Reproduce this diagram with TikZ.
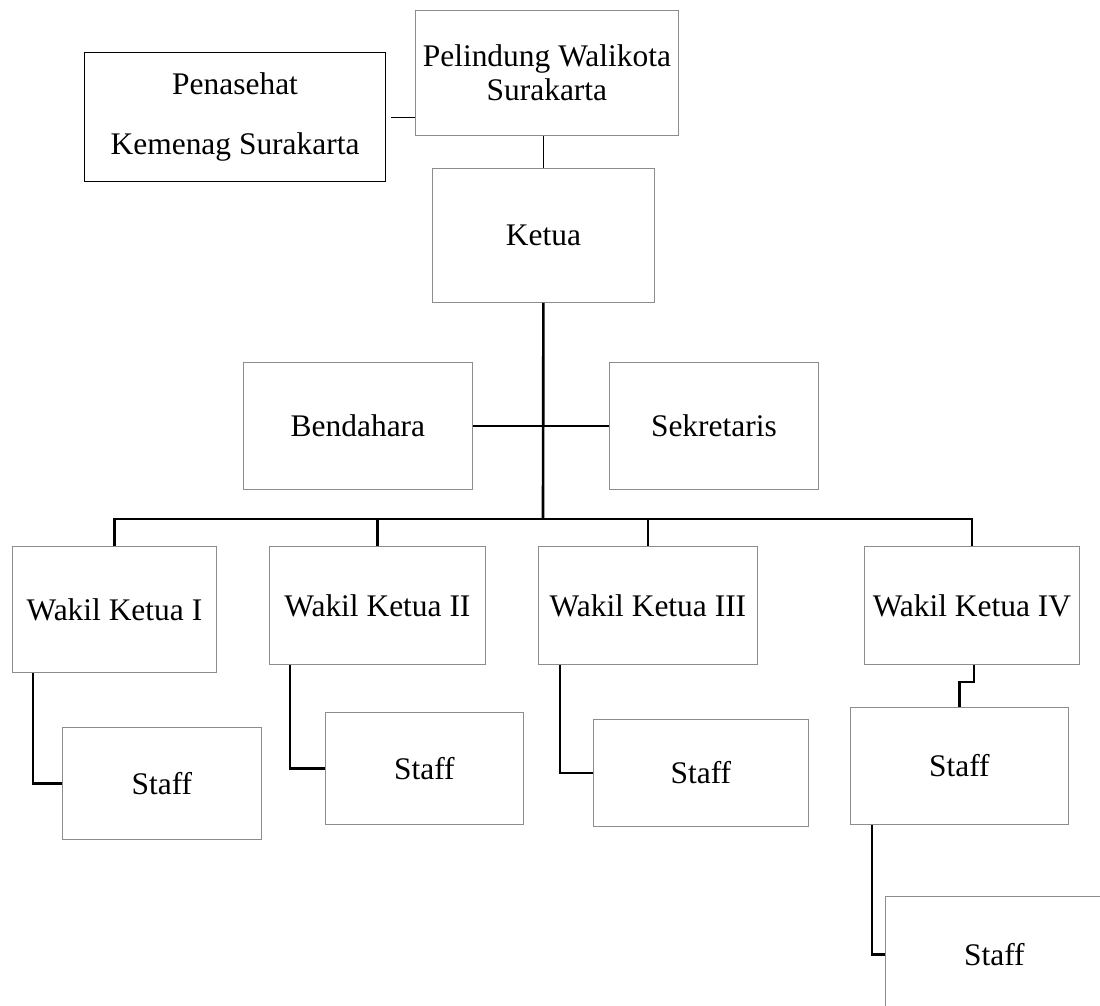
\documentclass[tikz,border=0pt]{standalone}
\usepackage{fontspec}
\setmainfont{Liberation Serif}
\usetikzlibrary{positioning}

\begin{document}
\begin{tikzpicture}[x=0.02cm,y=-0.02cm,
    font=\fontsize{17.9}{19}\selectfont,
    box/.style={draw=black!45, line width=0.5pt, rectangle, inner sep=0pt,
                anchor=north west, align=center},
    thin/.style={line width=0.6pt},
    thick/.style={line width=1.5pt}]
  \useasboundingbox (0,0) rectangle (1100,1006);
  \begin{scope}
  \clip (0,0) rectangle (1100,1006);
  \node[box, minimum width=5.26cm, minimum height=2.5cm] (pel) at (415,10) {Pelindung Walikota\\Surakarta};
  \node[box, draw=black, line width=0.7pt, minimum width=6.02cm, minimum height=2.58cm] (pen) at (84,52) {Penasehat\\[0.53cm]Kemenag Surakarta};
  \node[box, minimum width=4.44cm, minimum height=2.68cm] (ketua) at (432,168) {Ketua};
  \node[box, minimum width=4.58cm, minimum height=2.54cm] (bend) at (243,362) {Bendahara};
  \node[box, minimum width=4.18cm, minimum height=2.54cm] (sek) at (609,362) {Sekretaris};
  \node[box, minimum width=4.08cm, minimum height=2.52cm] (wa) at (12,546) {Wakil Ketua I};
  \node[box, minimum width=4.32cm, minimum height=2.36cm] (wb) at (269,546) {Wakil Ketua II};
  \node[box, minimum width=4.38cm, minimum height=2.36cm] (wc) at (538,546) {Wakil Ketua III};
  \node[box, minimum width=4.30cm, minimum height=2.36cm] (wd) at (864,546) {Wakil Ketua IV};
  \node[box, minimum width=3.98cm, minimum height=2.24cm] (sa) at (62,727) {Staff};
  \node[box, minimum width=3.96cm, minimum height=2.24cm] (sb) at (325,712) {Staff};
  \node[box, minimum width=4.30cm, minimum height=2.14cm] (sc) at (593,719) {Staff};
  \node[box, minimum width=4.36cm, minimum height=2.34cm] (sd) at (850,707) {Staff};
  \node[box, minimum width=4.36cm, minimum height=2.32cm] (se) at (885,896) {Staff};
  \coordinate (bus) at (543,519);

  % top
  \draw[thin] ([xshift=0.1cm]pen.east) -- (pen.east -| pel.west);
  \draw[thin] (ketua.north) -- (ketua.north |- pel.south);
  \draw[thick] (ketua.south) -- (bus);
  \draw[thick] (bend.east) -- (sek.west);
  % wakil
  \draw[thick] (bus) -| (wa.north);
  \draw[thick] (bus) -| (wb.north);
  \draw[thick] (bus) -| (wc.north);
  \draw[thick] (bus) -| (wd.north);
  % staff
  \draw[thick] (wa.south west) ++(21,0) |- (sa.west);
  \draw[thick] (wb.south west) ++(21,0) |- (sb.west);
  \draw[thick] (wc.south west) ++(22,0) |- (sc.west);
  \draw[thick] (wd.south) ++(2,0) -- ++(0,17) -| (sd.north);
  \draw[thick] (sd.south west) ++(22,0) |- (se.west);
  \end{scope}
\end{tikzpicture}
\end{document}
